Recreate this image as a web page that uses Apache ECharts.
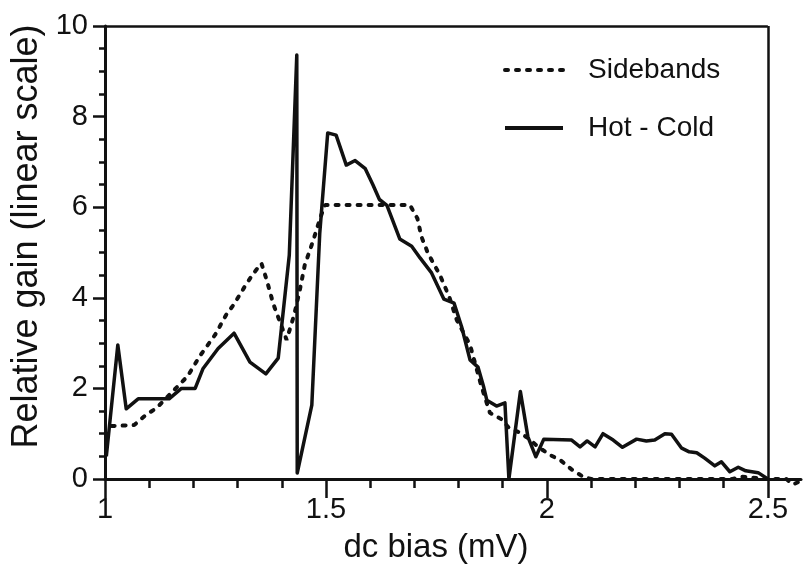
<!DOCTYPE html>
<html>
<head>
<meta charset="utf-8">
<script src="https://cdn.jsdelivr.net/npm/echarts@6/dist/echarts.min.js"></script>
<style>
  html, body { margin: 0; padding: 0; background: #fff; }
  #chart { width: 804px; height: 571px; }
</style>
</head>
<body>
<div id="chart"></div>
<script>
// ---- Data ----
const SERIES_NAMES = ['Sidebands', 'Hot - Cold'];

const HOT_X = [1.003, 1.029, 1.048, 1.075, 1.145, 1.173, 1.204, 1.222, 1.256, 1.292,
  1.328, 1.364, 1.392, 1.417, 1.434, 1.435, 1.468, 1.486, 1.504, 1.523,
  1.546, 1.566, 1.589, 1.606, 1.621, 1.638, 1.667, 1.694, 1.713, 1.739,
  1.767, 1.790, 1.807, 1.826, 1.844, 1.857, 1.864, 1.886, 1.905, 1.914,
  1.940, 1.957, 1.975, 1.993, 2.056, 2.075, 2.091, 2.109, 2.127, 2.150,
  2.171, 2.203, 2.225, 2.244, 2.267, 2.282, 2.305, 2.322, 2.339, 2.357,
  2.380, 2.395, 2.414, 2.433, 2.450, 2.478, 2.500];
const HOT_Y = [0.50, 2.96, 1.55, 1.77, 1.77, 2.00, 2.00, 2.44, 2.88, 3.22,
  2.58, 2.32, 2.67, 4.94, 9.36, 0.13, 1.63, 5.43, 7.64, 7.59,
  6.93, 7.03, 6.85, 6.50, 6.17, 6.04, 5.30, 5.14, 4.88, 4.55,
  3.97, 3.88, 3.36, 2.63, 2.47, 2.03, 1.74, 1.61, 1.68, 0.00,
  1.93, 0.93, 0.49, 0.88, 0.86, 0.71, 0.84, 0.71, 1.00, 0.86,
  0.70, 0.88, 0.84, 0.86, 1.00, 0.99, 0.68, 0.60, 0.58, 0.46,
  0.29, 0.38, 0.16, 0.26, 0.18, 0.14, 0.00];

const SB_X = [1.015, 1.066, 1.092, 1.117, 1.187, 1.215, 1.249, 1.274, 1.292, 1.317,
  1.336, 1.354, 1.366, 1.381, 1.392, 1.411, 1.428, 1.440, 1.452, 1.471,
  1.488, 1.498, 1.690, 1.707, 1.716, 1.731, 1.758, 1.779, 1.796, 1.826,
  1.852, 1.871, 1.897, 1.914, 1.935, 1.958, 1.980, 2.007, 2.030, 2.056,
  2.082, 2.100, 2.420, 2.440, 2.500, 2.542, 2.557, 2.575];
const SB_Y = [1.17, 1.19, 1.41, 1.57, 2.27, 2.72, 3.18, 3.62, 3.86, 4.26,
  4.54, 4.76, 4.39, 3.86, 3.57, 3.07, 3.62, 4.13, 4.72, 5.26,
  5.79, 6.05, 6.05, 5.75, 5.35, 4.98, 4.50, 4.02, 3.51, 2.96,
  2.04, 1.46, 1.32, 1.13, 1.04, 0.90, 0.71, 0.53, 0.42, 0.21,
  0.05, 0.00, 0.00, 0.05, 0.00, 0.00, -0.12, -0.04];

const X_MIN = 1, X_MAX = 2.575, FRAME_X = 2.5;
const Y_MIN = 0, Y_MAX = 10;
const X_MAJOR_TICKS = [1, 1.5, 2, 2.5];
const X_MINOR_TICKS = [1.0, 1.1, 1.2, 1.3, 1.4, 1.5, 1.6, 1.7, 1.8, 1.9, 2.0, 2.1, 2.2, 2.3, 2.4, 2.5];
const X_TICK_LABELS = ['1', '1.5', '2', '2.5'];

// ---- Chart ----
const FONT = 'Liberation Sans, Arial, Helvetica, sans-serif';
const INK = '#111';
const zip = (xs, ys) => xs.map((x, i) => [x, ys[i]]);

const chart = echarts.init(document.getElementById('chart'), null, { renderer: 'canvas' });
chart.setOption({
  animation: false,
  backgroundColor: '#fff',
  grid: { left: 105, right: 3, top: 26, bottom: 92, containLabel: false, outerBoundsMode: 'none' },
  legend: {
    orient: 'vertical',
    left: 498,
    top: 51,
    itemWidth: 58,
    itemHeight: 10,
    itemGap: 30,
    data: SERIES_NAMES,
    itemStyle: { opacity: 0 },
    lineStyle: { opacity: 1, width: 4 },
    textStyle: { fontSize: 28, fontFamily: FONT, color: INK, padding: [0, 0, 0, 20] }
  },
  xAxis: [
    {
      type: 'value', min: X_MIN, max: X_MAX, interval: 0.1, position: 'bottom',
      name: 'dc bias (mV)', nameLocation: 'middle', nameGap: 52,
      nameTextStyle: { fontSize: 33, fontFamily: FONT, color: INK, padding: [0, 34, 0, 0] },
      axisLine: { show: true, onZero: false, lineStyle: { color: INK, width: 3 } },
      axisTick: { show: true, inside: false, length: 9, customValues: X_MINOR_TICKS, lineStyle: { color: INK, width: 2.5 } },
      axisLabel: {
        show: true, margin: 16, customValues: X_MAJOR_TICKS,
        formatter: v => X_TICK_LABELS[X_MAJOR_TICKS.indexOf(Math.round(v * 10) / 10)] ?? '',
        fontSize: 29, fontFamily: FONT, color: INK
      },
      splitLine: { show: false }
    },
    {
      type: 'value', min: X_MIN, max: X_MAX, interval: 0.5, position: 'bottom',
      axisLine: { show: false, onZero: false },
      axisTick: { show: true, inside: false, length: 19, customValues: X_MAJOR_TICKS, lineStyle: { color: INK, width: 2.5 } },
      axisLabel: { show: false },
      splitLine: { show: false }
    }
  ],
  yAxis: {
    type: 'value', min: Y_MIN, max: Y_MAX, interval: 2,
    name: 'Relative gain (linear scale)', nameLocation: 'middle', nameGap: 45,
    nameTextStyle: { fontSize: 36, fontFamily: FONT, color: INK, padding: [0, 0, 0, 32] },
    axisLine: { show: true, onZero: false, lineStyle: { color: INK, width: 3 } },
    axisTick: { show: true, inside: false, length: 12, lineStyle: { color: INK, width: 2.5 } },
    minorTick: { show: true, splitNumber: 4, length: 6, lineStyle: { color: INK, width: 2.5 } },
    axisLabel: { margin: 17, fontSize: 29, fontFamily: FONT, color: INK },
    splitLine: { show: false },
    minorSplitLine: { show: false }
  },
  series: [
    {
      name: SERIES_NAMES[0], type: 'line', xAxisIndex: 0, data: zip(SB_X, SB_Y),
      symbol: 'none', clip: false, z: 2,
      lineStyle: { color: INK, width: 4, type: [3, 8], cap: 'round' },
      itemStyle: { color: INK }
    },
    {
      name: SERIES_NAMES[1], type: 'line', xAxisIndex: 0, data: zip(HOT_X, HOT_Y),
      symbol: 'none', z: 3,
      lineStyle: { color: INK, width: 3.5, join: 'round' },
      itemStyle: { color: INK },
      markLine: {
        silent: true, symbol: ['none', 'none'], label: { show: false },
        lineStyle: { color: INK, width: 2.5, type: 'solid' },
        emphasis: { disabled: true },
        data: [
          [{ coord: [X_MIN, Y_MAX] }, { coord: [FRAME_X, Y_MAX] }],
          [{ coord: [FRAME_X, Y_MIN] }, { coord: [FRAME_X, Y_MAX] }]
        ]
      }
    }
  ]
});
</script>
</body>
</html>
